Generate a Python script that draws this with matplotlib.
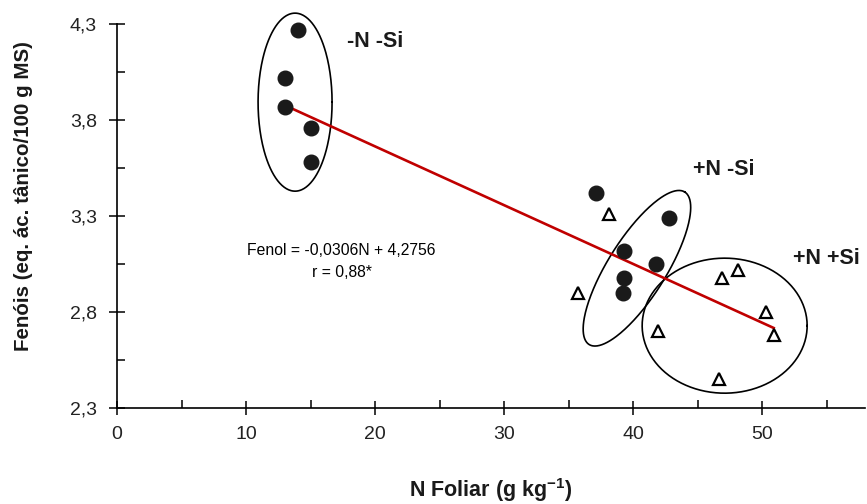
import matplotlib.pyplot as plt
import numpy as np
from matplotlib.ticker import FixedLocator, MultipleLocator, FuncFormatter

plt.rcParams['font.family'] = ['Liberation Sans', 'DejaVu Sans']
plt.rcParams['mathtext.fontset'] = 'custom'
plt.rcParams['mathtext.bf'] = 'Liberation Sans:bold'
plt.rcParams['mathtext.rm'] = 'Liberation Sans'

# circulos cheios (sem Si)
n_sem_si = np.array([14.0, 13.0, 13.0, 15.0, 15.0, 37.1, 42.8, 39.3, 41.8, 39.3, 39.2])
f_sem_si = np.array([4.27, 4.02, 3.87, 3.76, 3.58, 3.42, 3.29, 3.12, 3.05, 2.98, 2.90])
# triangulos abertos (com Si)
n_com_si = np.array([38.1, 35.7, 41.9, 48.1, 46.9, 50.3, 50.9, 46.7])
f_com_si = np.array([3.31, 2.90, 2.70, 3.02, 2.98, 2.80, 2.68, 2.45])

a, b = -0.0306, 4.2756
n_reta = np.array([13.0, 50.9])

y_ticks = [2.3, 2.8, 3.3, 3.8, 4.3]
y_minor = [2.55, 3.05, 3.55, 4.05]

fig = plt.figure(figsize=(8.67, 5.04), dpi=100)
ax = fig.add_axes([0.135, 0.190, 0.863, 0.762])

ax.plot(n_sem_si, f_sem_si, 'o', color='#1a1a1a', markersize=10.5, zorder=4, clip_on=False)
ax.plot(n_com_si, f_com_si, '^', markerfacecolor='white', markeredgecolor='black',
        markeredgewidth=1.6, markersize=9, zorder=4, clip_on=False)
ax.plot(n_reta, a * n_reta + b, '-', color='#c00000', lw=1.9, zorder=3)

# elipses desenhadas em unidades de pixel (kx, ky = px por unidade)
kx, ky = 12.9, 192.0
t = np.linspace(0, 2 * np.pi, 300)
def elipse(cx, cy, ra, rb, ang):
    th = np.radians(ang)
    u = ra * np.cos(t) * np.cos(th) - rb * np.sin(t) * np.sin(th)
    v = ra * np.cos(t) * np.sin(th) + rb * np.sin(t) * np.cos(th)
    ax.plot(cx + u / kx, cy + v / ky, 'k-', lw=1.2, zorder=2, clip_on=False)

elipse(13.8, 3.894, 37, 89, 0)
elipse(40.3, 3.029, 90, 29, 57.9)
elipse(47.1, 2.730, 82.5, 67.5, 0)

ax.text(20.0, 4.21, '-N -Si', fontsize=15.5, fontweight='bold', ha='center', va='center', color='#1a1a1a')
ax.text(47.0, 3.545, '+N -Si', fontsize=15.5, fontweight='bold', ha='center', va='center', color='#1a1a1a')
ax.text(55.0, 3.08, '+N +Si', fontsize=15.5, fontweight='bold', ha='center', va='center', color='#1a1a1a')
ax.text(17.4, 3.12, 'Fenol = -0,0306N + 4,2756', fontsize=11.3, ha='center', va='center')
ax.text(17.4, 3.005, 'r = 0,88*', fontsize=11.3, ha='center', va='center')

ax.set_xlim(0, 58)
ax.set_ylim(2.3, 4.3)
ax.xaxis.set_major_locator(MultipleLocator(10))
ax.xaxis.set_minor_locator(MultipleLocator(5))
ax.yaxis.set_major_locator(FixedLocator(y_ticks))
ax.yaxis.set_minor_locator(FixedLocator(y_minor))
ax.yaxis.set_major_formatter(FuncFormatter(lambda v, p: f'{v:.1f}'.replace('.', ',')))
ax.tick_params(which='major', direction='inout', length=11, width=1.1, labelsize=14,
               labelcolor='#222222')
ax.tick_params(which='minor', direction='in', length=5.5, width=1.1)
ax.tick_params(axis='x', which='major', length=10, pad=8)
ax.tick_params(axis='y', which='major', pad=9)
for s in ['top', 'right']:
    ax.spines[s].set_visible(False)
for s in ['left', 'bottom']:
    ax.spines[s].set_linewidth(1.2)

ax.set_xlabel(r'N Foliar (g kg$^{\mathbf{-1}}$)', fontsize=15.5, fontweight='bold', color='#1a1a1a')
ax.xaxis.set_label_coords(0.499, -0.176)
ax.set_ylabel('Fenóis (eq. ác. tânico/100 g MS)', fontsize=14.8, fontweight='bold', color='#1a1a1a')
ax.yaxis.set_label_coords(-0.112, 0.553)

fig.savefig('out.png', dpi=100)
